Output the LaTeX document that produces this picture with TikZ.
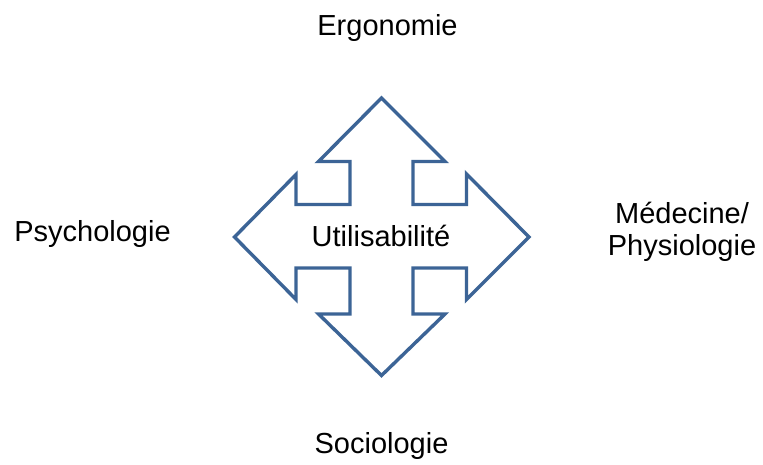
\documentclass[tikz,border=0pt]{standalone}
\usepackage{fontspec}
\setmainfont{Liberation Sans}
\definecolor{arrowblue}{RGB}{60,100,150}
\begin{document}
\begin{tikzpicture}[x=1pt,y=-1pt,
  lbl/.style={font=\fontsize{29}{32}\selectfont, inner sep=0pt, anchor=base, text=black},
  quad/.style={draw=arrowblue, line width=3.4pt, line join=miter, fill=white}]
\useasboundingbox[fill=white] (0,0) rectangle (763,465);
\draw[quad] (381.5,98) -- (445,161.5) -- (413,161.5) -- (413,204.5) -- (466.5,204.5)
  -- (466.5,174) -- (529,237) -- (466.5,299.5) -- (466.5,268) -- (413,268)
  -- (413,314) -- (445,314) -- (381.5,375.5) -- (318.5,314) -- (350,314)
  -- (350,268) -- (296,268) -- (296,299.5) -- (234.5,237) -- (296,174.5)
  -- (296,204.5) -- (350,204.5) -- (350,161.5) -- (318.5,161.5) -- cycle;
\node[lbl] (center) at (381,246.5) {Utilisabilité};
\node[lbl] (top) at (387.5,36) {Ergonomie};
\node[lbl] (left) at (92.5,242) {Psychologie};
\node[lbl] (bottom) at (381.5,453) {Sociologie};
\node[lbl, align=center, anchor=base] (right) at (682,255.5) {Médecine/\\Physiologie};
\end{tikzpicture}
\end{document}
